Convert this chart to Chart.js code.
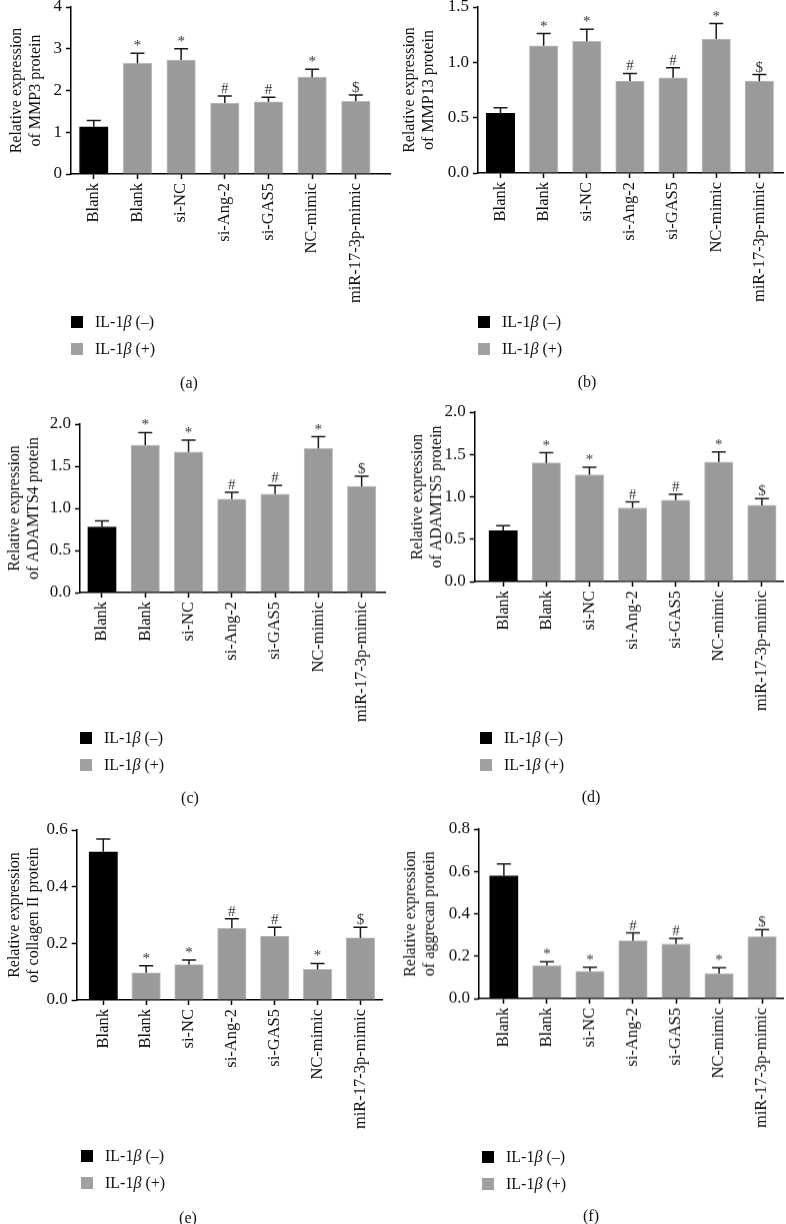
<!DOCTYPE html>
<html>
<head>
<meta charset="utf-8">
<script src="https://cdn.jsdelivr.net/npm/chart.js@4.4.1/dist/chart.umd.min.js"></script>
<style>
  body { margin: 0; background: #fff; width: 786px; height: 1224px; position: relative; overflow: hidden;
         font-family: "Liberation Serif", "Times New Roman", serif; color: #111; }
  canvas { position: absolute; }
  .legend { position: absolute; font-size: 16px; }
  .legend .row { display: flex; align-items: center; height: 26.5px; }
  .legend .box { width: 12px; height: 12px; margin-right: 12px; }
  .caption { position: absolute; font-size: 16px; transform: translate(-50%, -50%); }
</style>
</head>
<body>
<script>
// groups on the x axis (first bar: IL-1β (–), the rest: IL-1β (+))
const groups = ["Blank", "Blank", "si-NC", "si-Ang-2", "si-GAS5", "NC-mimic", "miR-17-3p-mimic"];
const marks = ["", "*", "*", "#", "#", "*", "$"];

// values (mean and upper error)
const mmp3Mean = [1.13, 2.65, 2.73, 1.70, 1.73, 2.32, 1.74];
const mmp3Sd = [0.15, 0.24, 0.27, 0.17, 0.11, 0.19, 0.15];

const mmp13Mean = [0.54, 1.15, 1.19, 0.83, 0.86, 1.21, 0.83];
const mmp13Sd = [0.05, 0.11, 0.11, 0.07, 0.09, 0.14, 0.06];

const adamts4Mean = [0.78, 1.75, 1.67, 1.11, 1.17, 1.71, 1.26];
const adamts4Sd = [0.07, 0.15, 0.14, 0.08, 0.10, 0.14, 0.12];

const adamts5Mean = [0.60, 1.40, 1.26, 0.87, 0.96, 1.41, 0.90];
const adamts5Sd = [0.06, 0.12, 0.09, 0.07, 0.07, 0.12, 0.08];

const col2Mean = [0.523, 0.096, 0.125, 0.253, 0.226, 0.108, 0.219];
const col2Sd = [0.045, 0.025, 0.016, 0.034, 0.031, 0.021, 0.038];

const aggMean = [0.58, 0.156, 0.129, 0.273, 0.258, 0.118, 0.292];
const aggSd = [0.055, 0.018, 0.019, 0.037, 0.026, 0.027, 0.033];

const black = "#000000";
const gray = "#9a9a9a";
const fontFamily = '"Liberation Serif", "Times New Roman", serif';

const panels = [
  { tag: "a", title: ["Relative expression", "of MMP3 protein"], mean: mmp3Mean, sd: mmp3Sd, max: 4, step: 1, digits: 0,
    left: 0, axisX: 71, axisEnd: 390, top: 7, zero: 174, catMin: -0.522, catMax: 6.783, titlePad: 7.4,
    legendX: 71, legendY: 322, capX: 189, capY: 383 },
  { tag: "b", title: ["Relative expression", "of MMP13 protein"], mean: mmp13Mean, sd: mmp13Sd, max: 1.5, step: 0.5, digits: 1,
    left: 393, axisX: 478, axisEnd: 783, top: 7, zero: 173, catMin: -0.522, catMax: 6.548, titlePad: 7.4,
    legendX: 478, legendY: 322, capX: 587, capY: 382 },
  { tag: "c", title: ["Relative expression", "of ADAMTS4 protein"], mean: adamts4Mean, sd: adamts4Sd, max: 2, step: 0.5, digits: 1,
    left: 0, axisX: 80, axisEnd: 385, top: 424.3, zero: 592.7, catMin: -0.508, catMax: 6.54, titlePad: 5.4,
    legendX: 80, legendY: 738, capX: 190, capY: 798 },
  { tag: "d", title: ["Relative expression", "of ADAMTS5 protein"], mean: adamts5Mean, sd: adamts5Sd, max: 2, step: 0.5, digits: 1,
    left: 393, axisX: 474.7, axisEnd: 783, top: 412.3, zero: 581.7, catMin: -0.661, catMax: 6.489, titlePad: 15.4,
    legendX: 480, legendY: 738, capX: 591, capY: 797 },
  { tag: "e", title: ["Relative expression", "of collagen II protein"], mean: col2Mean, sd: col2Sd, max: 0.6, step: 0.2, digits: 1,
    left: 0, axisX: 76.7, axisEnd: 382.7, top: 830, zero: 1000, catMin: -0.62, catMax: 6.52, titlePad: 5.4,
    legendX: 81, legendY: 1156, capX: 188, capY: 1218 },
  { tag: "f", title: ["Relative expression", "of aggrecan protein"], mean: aggMean, sd: aggSd, max: 0.8, step: 0.2, digits: 1,
    left: 393, axisX: 479, axisEnd: 784.7, top: 829.3, zero: 999, catMin: -0.578, catMax: 6.49, titlePad: 8.4,
    legendX: 482, legendY: 1157, capX: 591, capY: 1216 }
];

// upper error bars with significance marks
const errorBars = {
  id: "errorBars",
  afterDatasetsDraw(chart) {
    const ctx = chart.ctx;
    const y = chart.scales.y;
    const ds = chart.data.datasets[0];
    const meta = chart.getDatasetMeta(0);
    ctx.save();
    ctx.strokeStyle = "#1a1a1a";
    ctx.lineWidth = 1.5;
    meta.data.forEach((bar, i) => {
      const top = y.getPixelForValue(ds.data[i] + ds.sd[i]);
      ctx.beginPath();
      ctx.moveTo(bar.x, bar.y);
      ctx.lineTo(bar.x, top);
      ctx.moveTo(bar.x - 7, top);
      ctx.lineTo(bar.x + 7, top);
      ctx.stroke();
      if (ds.marks[i]) {
        ctx.fillStyle = "#333";
        ctx.font = "15px " + fontFamily;
        ctx.textAlign = "center";
        ctx.textBaseline = "alphabetic";
        ctx.fillText(ds.marks[i], bar.x, top - 3);
      }
    });
    ctx.restore();
  }
};

const xHeight = 150;

panels.forEach(p => {
  const canvas = document.createElement("canvas");
  const w = 393;
  const h = (p.zero - p.top) + 20 + xHeight;
  canvas.width = w;
  canvas.height = h;
  canvas.style.left = p.left + "px";
  canvas.style.top = (p.top - 20) + "px";
  canvas.style.width = w + "px";
  canvas.style.height = h + "px";
  document.body.appendChild(canvas);

  new Chart(canvas.getContext("2d"), {
    type: "bar",
    data: {
      labels: groups,
      datasets: [{
        data: p.mean,
        sd: p.sd,
        marks: marks,
        backgroundColor: groups.map((g, i) => i === 0 ? black : gray),
        borderColor: groups.map((g, i) => i === 0 ? black : "#bdbdbd"),
        borderWidth: 1,
        barThickness: 28.5
      }]
    },
    options: {
      responsive: false,
      animation: false,
      layout: { padding: { left: 0, top: 20, right: p.left + w - p.axisEnd, bottom: 0 } },
      plugins: { legend: { display: false }, tooltip: { enabled: false } },
      scales: {
        x: {
          offset: true,
          grid: { drawOnChartArea: false, offset: false, tickLength: 5, tickWidth: 1.5, tickColor: "#000" },
          border: { display: true, color: "#000", width: 1.5 },
          ticks: { color: "#111", font: { family: fontFamily, size: 16.5 }, minRotation: 90, maxRotation: 90,
                   autoSkip: false, padding: 4 },
          afterBuildTicks: s => { s._startValue = p.catMin; s._valueRange = p.catMax - p.catMin; },
          afterFit: s => { s.height = xHeight; }
        },
        y: {
          min: 0,
          max: p.max,
          grid: { drawOnChartArea: false, tickLength: 5, tickWidth: 1.5, tickColor: "#000" },
          border: { display: true, color: "#000", width: 1.5 },
          ticks: { stepSize: p.step, color: "#111", font: { family: fontFamily, size: 17 }, padding: 4,
                   callback: v => Number(v).toFixed(p.digits) },
          title: { display: true, text: p.title, color: "#111",
                   font: { family: fontFamily, size: 16, lineHeight: 1.2 },
                   padding: { top: p.titlePad, bottom: 0 } },
          afterFit: s => { s.width = p.axisX - p.left; }
        }
      }
    },
    plugins: [errorBars]
  });

  const legend = document.createElement("div");
  legend.className = "legend";
  legend.style.left = p.legendX + "px";
  legend.style.top = (p.legendY - 13) + "px";
  legend.innerHTML =
    '<div class="row"><span class="box" style="background:' + black + '"></span>IL-1<i>&beta;</i>&nbsp;(&ndash;)</div>' +
    '<div class="row"><span class="box" style="background:#a0a0a0"></span>IL-1<i>&beta;</i>&nbsp;(+)</div>';
  document.body.appendChild(legend);

  const cap = document.createElement("div");
  cap.className = "caption";
  cap.style.left = p.capX + "px";
  cap.style.top = p.capY + "px";
  cap.textContent = "(" + p.tag + ")";
  document.body.appendChild(cap);
});
</script>
</body>
</html>
